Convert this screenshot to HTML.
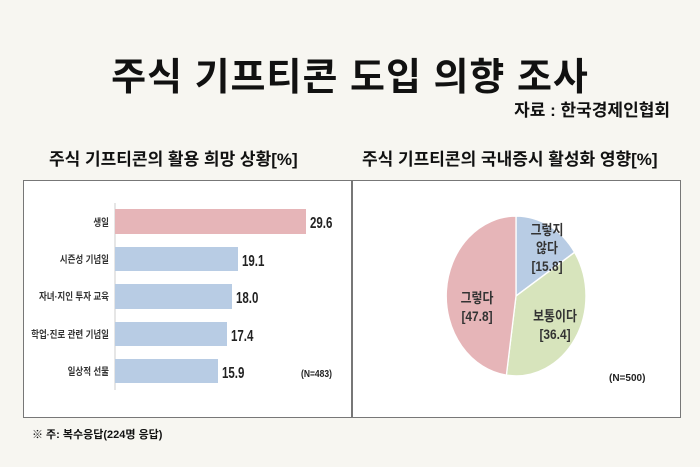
<!DOCTYPE html>
<html><head><meta charset="utf-8"><style>
body{margin:0;width:700px;height:467px;background:#f7f6f1;font-family:"Liberation Sans","Noto Sans CJK KR",sans-serif;position:relative;overflow:hidden;color:#111}
.t{position:absolute;font-weight:bold;white-space:nowrap}
</style></head><body>
<div class="t" style="left:0;width:700px;text-align:center;top:46px;font-size:38px;letter-spacing:1px">주식 기프티콘 도입 의향 조사</div>
<div class="t" style="right:30px;top:96px;font-size:17px">자료 : 한국경제인협회</div>
<div class="t" style="left:49px;top:145px;font-size:17px">주식 기프티콘의 활용 희망 상황[%]</div>
<div class="t" style="left:362px;top:145px;font-size:17px">주식 기프티콘의 국내증시 활성화 영향[%]</div>
<svg style="position:absolute;left:0;top:0" width="700" height="467" font-family="Liberation Sans, Noto Sans CJK KR, sans-serif">
<rect x="23.5" y="180.5" width="328" height="237" fill="#fff" stroke="#777"/>
<rect x="352.5" y="180.5" width="328" height="237" fill="#fff" stroke="#777"/>
<line x1="115" y1="203" x2="115" y2="390" stroke="#ccc"/>
<rect x="115" y="209" width="191" height="25" fill="#e6b5b8"/>
<rect x="115" y="247" width="123" height="24" fill="#b8cce4"/>
<rect x="115" y="284" width="117" height="25" fill="#b8cce4"/>
<rect x="115" y="322" width="112" height="24" fill="#b8cce4"/>
<rect x="115" y="359" width="103" height="24" fill="#b8cce4"/>
<g font-size="10" font-weight="bold" fill="#333" text-anchor="end" transform="translate(109,0) scale(0.85,1)">
<text x="0" y="226">생일</text>
<text x="0" y="263">시즌성 기념일</text>
<text x="0" y="300">자녀·지인 투자 교육</text>
<text x="0" y="338">학업·진로 관련 기념일</text>
<text x="0" y="375">일상적 선물</text>
</g>
<g font-size="16" font-weight="bold" fill="#222">
<text x="0" y="228" transform="translate(310,0) scale(0.72,1)">29.6</text>
<text x="0" y="266" transform="translate(242,0) scale(0.72,1)">19.1</text>
<text x="0" y="303" transform="translate(236,0) scale(0.72,1)">18.0</text>
<text x="0" y="341" transform="translate(231,0) scale(0.72,1)">17.4</text>
<text x="0" y="378" transform="translate(222,0) scale(0.72,1)">15.9</text>
</g>
<text x="0" y="377" font-size="10" font-weight="bold" fill="#222" transform="translate(301,0) scale(0.85,1)">(N=483)</text>
<g transform="translate(516,296) scale(0.875,1)" stroke="#fff" stroke-width="1.5">
<path d="M0,0 L0,-80 A80,80 0 0 1 67,-43.7 Z" fill="#b8cce4"/>
<path d="M0,0 L67,-43.7 A80,80 0 0 1 -11,79.2 Z" fill="#d7e4bc"/>
<path d="M0,0 L-11,79.2 A80,80 0 0 1 0,-80 Z" fill="#e6b5b8"/>
</g>
<g font-size="14" font-weight="bold" fill="#333" text-anchor="middle">
<g transform="translate(547,0) scale(0.85,1)"><text x="0" y="235">그렇지</text><text x="0" y="253">않다</text><text x="0" y="271">[15.8]</text></g>
<g transform="translate(477,0) scale(0.85,1)"><text x="0" y="303">그렇다</text><text x="0" y="321">[47.8]</text></g>
<g transform="translate(555,0) scale(0.85,1)"><text x="0" y="321">보통이다</text><text x="0" y="339">[36.4]</text></g>
</g>
<text x="609" y="381" font-size="10" font-weight="bold" fill="#222">(N=500)</text>
</svg>
<div class="t" style="left:32px;top:426px;font-size:11px">※ 주: 복수응답(224명 응답)</div>
</body></html>
